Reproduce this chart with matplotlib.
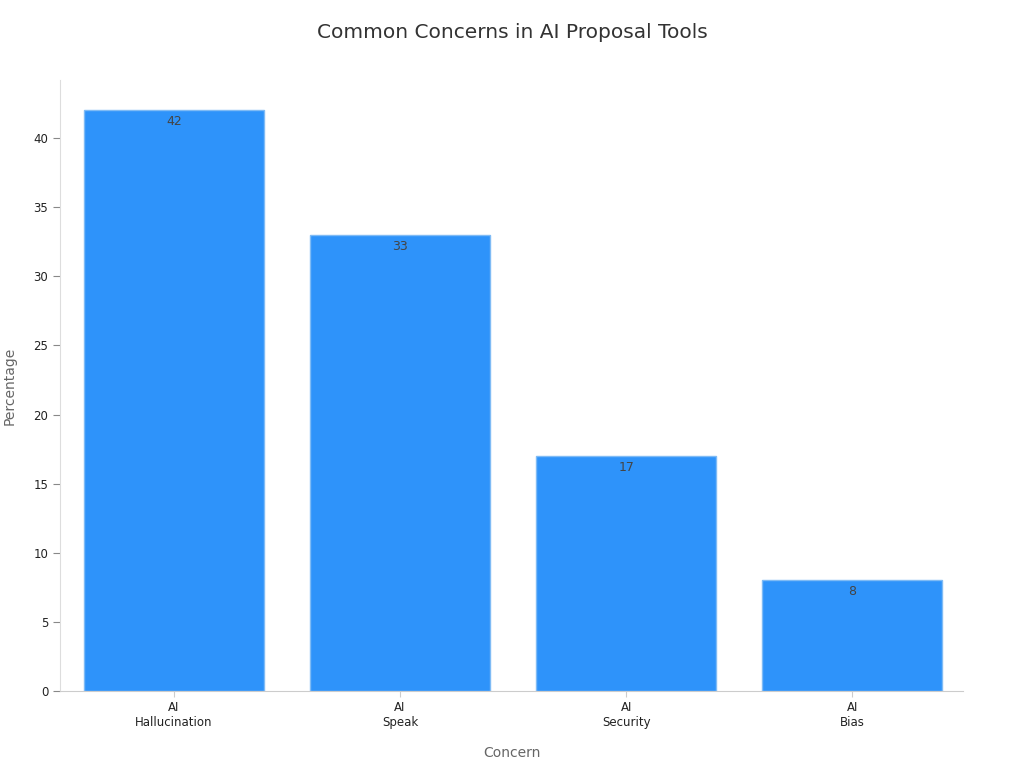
import matplotlib
matplotlib.use("Agg")
import matplotlib.pyplot as plt

categories = ["AI\nHallucination", "AI\nSpeak", "AI\nSecurity", "AI\nBias"]
values = [42, 33, 17, 8]

fig = plt.figure(figsize=(10.24, 7.68), dpi=100)
ax = fig.add_axes([0.0586, 0.1003, 0.8818, 0.7955])
x = range(len(categories))
bars = ax.bar(x, values, width=0.795, color="#2E93FA", edgecolor="#7FBBF5", linewidth=1)
for xi, v in zip(x, values):
    ax.text(xi, v - 0.35, str(v), ha="center", va="top", fontsize=9, color="#444444")
ax.set_xlim(-0.504, 3.49)
ax.set_ylim(0, 44.2)
ax.set_xticks(list(x))
ax.set_xticklabels(categories, fontsize=8.5, color="#222222")
ax.set_yticks(range(0, 45, 5))
ax.tick_params(axis="y", labelsize=8.5, colors="#222222", length=5, color="#888888")
ax.tick_params(axis="x", length=4, color="#cccccc")
for s in ["top", "right"]:
    ax.spines[s].set_visible(False)
ax.spines["left"].set_color("#dddddd")
ax.spines["bottom"].set_color("#cccccc")
ax.set_xlabel("Concern", fontsize=10, color="#666666", labelpad=12)
ax.set_ylabel("Percentage", fontsize=10, color="#666666", labelpad=12)
fig.suptitle("Common Concerns in AI Proposal Tools", y=0.97, fontsize=14.5, color="#333333")
fig.savefig("out.png", dpi=100)
